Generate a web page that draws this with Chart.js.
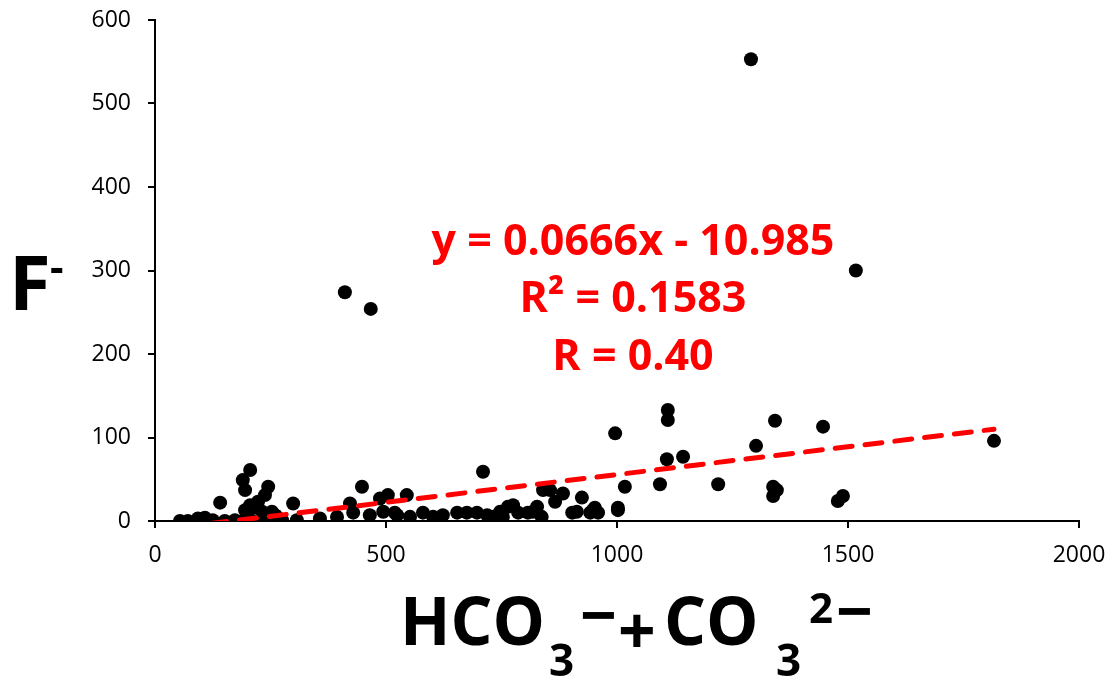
<!DOCTYPE html>
<html lang="en">
<head>
  <meta charset="utf-8"/>
  <title>F- vs HCO3- + CO3 2-</title>
  <script src="https://cdn.jsdelivr.net/npm/chart.js"></script>
  <style>
    html, body { margin: 0; padding: 0; background: #fff; }
    #wrap { width: 1115px; height: 677px; position: relative; }
  </style>
</head>
<body>
<div id="wrap"><canvas id="scatterChart"></canvas></div>
<script>
  // values
  const bicarb = [54, 71, 93, 108, 125, 141, 151, 173, 190, 190, 195, 195, 199, 201, 206, 206, 210, 216, 223, 232,
    238, 238, 245, 253, 260, 264, 275, 299, 307, 357, 394, 411, 422, 429, 448, 465, 467, 487, 494, 504,
    519, 524, 545, 552, 580, 602, 623, 654, 675, 697, 710, 719, 732, 747, 753, 764, 775, 786, 807, 818,
    827, 837, 840, 855, 866, 883, 903, 913, 924, 942, 948, 952, 959, 996, 1002, 1002, 1017, 1093, 1108, 1110,
    1110, 1143, 1219, 1290, 1301, 1338, 1338, 1342, 1346, 1446, 1478, 1489, 1517, 1816];
  const fluoride = [0, 0, 3, 4, 1, 22, 0, 1, 0, 49, 37, 13, 11, 4, 61, 19, 0, 16, 23, 11,
    31, 4, 41, 11, 7, 5, 1, 21, 1, 3, 5, 274, 21, 10, 41, 7, 254, 27, 11, 31,
    10, 7, 31, 5, 10, 5, 7, 10, 10, 10, 59, 7, 5, 11, 5, 17, 19, 10, 10, 11,
    17, 5, 37, 37, 23, 33, 10, 11, 28, 10, 13, 16, 10, 105, 13, 16, 41, 44, 74, 121,
    133, 77, 44, 553, 90, 30, 41, 120, 37, 113, 24, 30, 300, 96];
  const xTicks = [0, 500, 1000, 1500, 2000];
  const yTicks = [0, 100, 200, 300, 400, 500, 600];
  const trendSlope = 0.0666;
  const trendIntercept = -10.985;
  const equationLines = ['y = 0.0666x - 10.985', 'R² = 0.1583', 'R = 0.40'];

  const points = bicarb.map((x, i) => ({ x: x, y: fluoride[i] }));
  const xMin = Math.min(...bicarb), xMax = Math.max(...bicarb);
  const trend = [xMin, xMax].map(x => ({ x: x, y: trendSlope * x + trendIntercept }));

  const FONT = '"Open Sans", "DejaVu Sans", sans-serif';

  // text pieces placed by their ink box (for sub/superscripts)
  function drawRuns(ctx, runs) {
    runs.forEach(r => {
      ctx.font = 'bold ' + r.size + 'px ' + FONT;
      const m = ctx.measureText(r.text);
      let base = r.y;
      if (r.mode === 'top') base = r.y + m.actualBoundingBoxAscent;
      if (r.mode === 'mid') base = r.y + (m.actualBoundingBoxAscent - m.actualBoundingBoxDescent) / 2;
      ctx.fillText(r.text, r.x + m.actualBoundingBoxLeft, base);
    });
  }

  const labelsPlugin = {
    id: 'labels',
    afterDraw(chart) {
      const ctx = chart.ctx;
      ctx.save();
      ctx.textAlign = 'left';
      ctx.textBaseline = 'alphabetic';
      ctx.fillStyle = '#000';
      // y title: F-
      drawRuns(ctx, [
        { text: 'F', size: 76, mode: 'top', x: 15, y: 256 },
        { text: '-', size: 42, mode: 'mid', x: 51, y: 270 }
      ]);
      // x title: HCO3- + CO3 2-
      drawRuns(ctx, [
        { text: 'HCO', size: 66, x: 405, y: 645 },
        { text: '3', size: 44, mode: 'top', x: 550, y: 643 },
        { text: '\u2212', size: 64, mode: 'mid', x: 582, y: 615 },
        { text: '+', size: 66, mode: 'mid', x: 620, y: 630 },
        { text: 'CO', size: 66, x: 667, y: 645 },
        { text: '3', size: 44, mode: 'top', x: 777, y: 643 },
        { text: '2', size: 42, mode: 'top', x: 810, y: 593 },
        { text: '\u2212', size: 64, mode: 'mid', x: 838, y: 611 }
      ]);
      // regression text
      ctx.fillStyle = '#ff0000';
      ctx.textAlign = 'center';
      ctx.font = 'bold 43px ' + FONT;
      const bases = [255, 312, 370];
      equationLines.forEach((t, i) => ctx.fillText(t, 633, bases[i]));
      ctx.restore();
    }
  };

  const tickFont = { family: FONT, size: 23 };

  new Chart(document.getElementById('scatterChart'), {
    type: 'scatter',
    data: {
      datasets: [
        {
          label: 'trend',
          type: 'line',
          data: trend,
          borderColor: '#ff0000',
          borderWidth: 5,
          borderDash: [17, 13],
          borderCapStyle: 'round',
          pointRadius: 0,
          fill: false,
          order: 0
        },
        {
          label: 'F-',
          data: points,
          backgroundColor: '#000',
          borderWidth: 0,
          pointRadius: 7,
          pointHoverRadius: 7,
          order: 1
        }
      ]
    },
    options: {
      responsive: true,
      maintainAspectRatio: false,
      animation: false,
      layout: { padding: { top: 20, right: 36, left: 0, bottom: 0 } },
      plugins: { legend: { display: false }, tooltip: { enabled: false } },
      scales: {
        x: {
          type: 'linear',
          min: xTicks[0],
          max: xTicks[xTicks.length - 1],
          afterBuildTicks: s => { s.ticks = xTicks.map(v => ({ value: v })); },
          afterFit: s => { s.height = 156; s.paddingLeft = 0; s.paddingRight = 0; },
          grid: { display: true, drawOnChartArea: false, drawTicks: true, tickLength: 7, color: '#000', lineWidth: 2 },
          border: { display: true, color: '#000', width: 2 },
          ticks: { color: '#000', font: tickFont, padding: 14, maxRotation: 0, callback: v => String(v) }
        },
        y: {
          type: 'linear',
          min: yTicks[0],
          max: yTicks[yTicks.length - 1],
          afterBuildTicks: s => { s.ticks = yTicks.map(v => ({ value: v })); },
          afterFit: s => { s.width = 155; s.paddingTop = 0; s.paddingBottom = 0; },
          grid: { display: true, drawOnChartArea: false, drawTicks: true, tickLength: 7, color: '#000', lineWidth: 2 },
          border: { display: true, color: '#000', width: 2 },
          ticks: { color: '#000', font: tickFont, padding: 17, callback: v => String(v) }
        }
      }
    },
    plugins: [labelsPlugin]
  });
</script>
</body>
</html>
